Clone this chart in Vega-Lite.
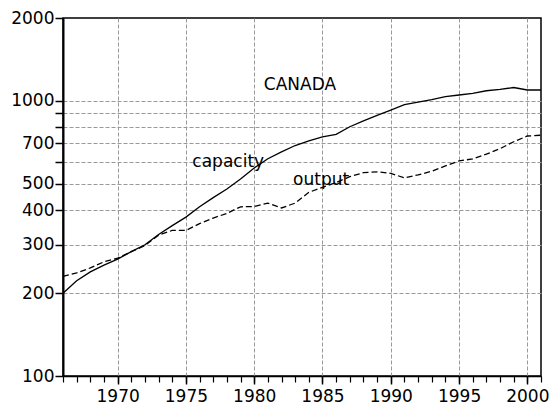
{
  "$schema": "https://vega.github.io/schema/vega-lite/v6.json",
  "width": 478,
  "height": 358,
  "autosize": "none",
  "padding": {"left": 63, "top": 18, "right": 11, "bottom": 34},
  "background": "white",
  "config": {
    "view": {"stroke": "black", "strokeWidth": 1.5},
    "axis": {"labelFont": "DejaVu Sans", "labelFontSize": 17, "labelColor": "black", "domainColor": "black", "tickColor": "black", "gridColor": "#999999", "gridDash": [4, 2], "gridWidth": 1, "title": null}
  },
  "datasets": {
    "series": [
      {"year": 1966, "capacity": 200, "output": 230},
      {"year": 1967, "capacity": 222, "output": 237},
      {"year": 1968, "capacity": 239, "output": 247},
      {"year": 1969, "capacity": 253, "output": 260},
      {"year": 1970, "capacity": 266, "output": 268},
      {"year": 1971, "capacity": 283, "output": 283},
      {"year": 1972, "capacity": 300, "output": 298},
      {"year": 1973, "capacity": 327, "output": 325},
      {"year": 1974, "capacity": 352, "output": 338},
      {"year": 1975, "capacity": 378, "output": 338},
      {"year": 1976, "capacity": 412, "output": 358},
      {"year": 1977, "capacity": 445, "output": 375},
      {"year": 1978, "capacity": 478, "output": 390},
      {"year": 1979, "capacity": 520, "output": 412},
      {"year": 1980, "capacity": 570, "output": 413},
      {"year": 1981, "capacity": 616, "output": 425},
      {"year": 1982, "capacity": 652, "output": 408},
      {"year": 1983, "capacity": 688, "output": 425},
      {"year": 1984, "capacity": 715, "output": 465},
      {"year": 1985, "capacity": 740, "output": 485},
      {"year": 1986, "capacity": 755, "output": 505},
      {"year": 1987, "capacity": 805, "output": 530},
      {"year": 1988, "capacity": 845, "output": 548},
      {"year": 1989, "capacity": 885, "output": 552},
      {"year": 1990, "capacity": 925, "output": 545},
      {"year": 1991, "capacity": 968, "output": 525},
      {"year": 1992, "capacity": 990, "output": 538},
      {"year": 1993, "capacity": 1010, "output": 555},
      {"year": 1994, "capacity": 1035, "output": 580},
      {"year": 1995, "capacity": 1050, "output": 605},
      {"year": 1996, "capacity": 1065, "output": 615},
      {"year": 1997, "capacity": 1088, "output": 640},
      {"year": 1998, "capacity": 1100, "output": 670},
      {"year": 1999, "capacity": 1118, "output": 710},
      {"year": 2000, "capacity": 1095, "output": 745},
      {"year": 2001, "capacity": 1095, "output": 750}
    ],
    "labels": [
      {"year": 1983.35, "value": 1140, "text": "CANADA"},
      {"year": 1978.1, "value": 599, "text": "capacity"},
      {"year": 1984.9, "value": 514, "text": "output"}
    ]
  },
  "layer": [
    {
      "data": {"name": "series"},
      "mark": {"type": "line", "color": "black", "strokeWidth": 1.3},
      "encoding": {
        "x": {"field": "year", "type": "quantitative", "scale": {"domain": [1966, 2001], "nice": false, "zero": false},
              "axis": {"orient": "bottom", "values": [1966,1967,1968,1969,1970,1971,1972,1973,1974,1975,1976,1977,1978,1979,1980,1981,1982,1983,1984,1985,1986,1987,1988,1989,1990,1991,1992,1993,1994,1995,1996,1997,1998,1999,2000,2001], "labels": false, "grid": false, "tickSize": 6, "tickWidth": 1.2, "domainWidth": 1.5}},
        "y": {"field": "capacity", "type": "quantitative", "scale": {"type": "log", "domain": [100, 2000], "nice": false},
              "axis": {"orient": "left", "values": [100,200,300,400,500,600,700,800,900,1000,2000], "labelExpr": "indexof([100,200,300,400,500,700,1000,2000], datum.value) >= 0 ? datum.value : ''", "grid": false, "tickSize": 8, "tickWidth": 1.5, "domainWidth": 2, "labelPadding": 1, "labelBaseline": "middle"}}
      }
    },
    {
      "data": {"name": "series"},
      "mark": {"type": "line", "color": "black", "strokeWidth": 1.3, "strokeDash": [6, 3]},
      "encoding": {
        "x": {"field": "year", "type": "quantitative",
              "axis": {"orient": "bottom", "values": [1970,1975,1980,1985,1990,1995,2000], "format": "d", "grid": true, "tickSize": 8, "tickWidth": 1.5, "domain": false, "labelPadding": 4}},
        "y": {"field": "output", "type": "quantitative",
              "axis": {"orient": "left", "values": [200,300,400,500,600,700,800,900,1000], "labels": false, "ticks": false, "domain": false, "grid": true}}
      }
    },
    {
      "data": {"name": "labels"},
      "mark": {"type": "text", "font": "DejaVu Sans", "fontSize": 17, "color": "black", "baseline": "middle", "align": "center"},
      "encoding": {
        "x": {"field": "year", "type": "quantitative", "axis": null},
        "y": {"field": "value", "type": "quantitative", "axis": null},
        "text": {"field": "text"}
      }
    }
  ],
  "resolve": {"axis": {"x": "independent", "y": "independent"}}
}
